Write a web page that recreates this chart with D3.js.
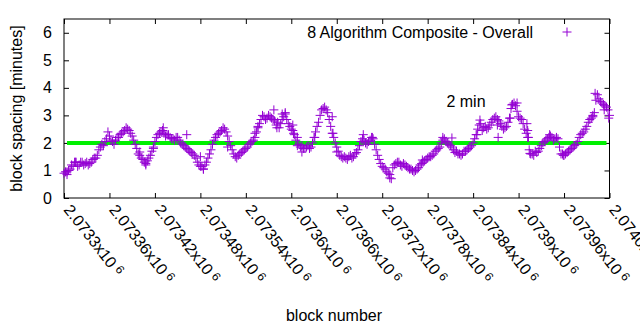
<!DOCTYPE html>
<html><head><meta charset="utf-8">
<script src="https://cdn.jsdelivr.net/npm/d3@7"></script>
<style>body{margin:0;background:#fff}svg{display:block}text{font-family:"Liberation Sans",Arial,sans-serif}</style>
</head><body><svg id="c" width="640" height="330"></svg>
<script>
// ---- data ----
const seriesName = "8 Algorithm Composite - Overall";
const firstBlock = 2073300;
const blockStep = 4;
// values at blocks firstBlock + 4*i
const spacingA = [
0.9,0.85,1.05,1.15,1.3,1.2,1.3,1.25,1.2,1.3,
1.45,1.55,1.85,1.9,2.15,2.25,2.05,2.1,2.2,2.35,
2.45,2.5,2.35,2.1,1.8,1.55,1.4,1.25,1.45,1.7,
2.05,2.3,2.4,2.35,2.3,2.2,2.15,2.2,2.1,1.95,
1.85,1.75,1.65,1.55,1.3,1.15,1.05,1.3,1.6,1.95,
2.2,2.35,2.45,2.5,2.25,1.9,1.6,1.45,1.6,1.7,
1.8,1.95,2.05,2.2,2.55,2.85,2.95,2.9,2.95,2.85,
2.65,2.55,2.85,3.05,2.7,2.5,2.3,1.9,1.85,1.8,
1.85,1.8,2.0,2.4,2.75,3.2,3.3,3.1,2.6,2.2,
1.85,1.55,1.45,1.45,1.5,1.45,1.6,1.75,2.05,2.1,
1.95,2.1,2.15,1.75,1.4,1.15,1.05,0.9,0.7,1.2,
1.3,1.2,1.25,1.15,1.05,1.0,1.0,1.1,1.25,1.35,
1.45,1.5,1.6,1.75,1.85,2.1,2.05,1.95,1.85,1.65,
1.6,1.55,1.7,1.75,1.85,2.0,2.3,2.65,2.45,2.6,
2.55,2.75,2.9,2.85,2.7,2.5,2.6,2.9,3.4,3.35,
2.95,2.85,2.5,2.2,1.6,1.55,1.65,1.8,2.0,2.1,
2.2,2.2,2.15,2.15,1.6,1.55,1.65,1.75,1.85,1.95,
2.2,2.35,2.5,2.75,2.9,3.1,3.75,3.5,3.4,3.3,
3.0
];
// values at blocks firstBlock + 2 + 4*i
const spacingB = [
0.95,1.0,1.2,1.3,1.15,1.3,1.2,1.3,1.25,1.4,
1.45,1.75,1.95,2.05,2.4,2.1,1.95,2.2,2.3,2.4,
2.55,2.45,2.25,1.95,1.6,1.45,1.3,1.35,1.55,1.85,
2.2,2.35,2.45,2.25,2.3,2.15,2.1,2.2,2.0,1.9,
1.8,1.7,1.6,1.45,1.2,1.15,1.2,1.45,1.75,2.1,
2.3,2.4,2.55,2.4,2.05,1.75,1.5,1.55,1.65,1.75,
1.85,2.0,2.1,2.4,2.7,3.0,2.85,3.0,2.9,2.8,
2.75,2.7,2.95,2.85,2.6,2.45,2.1,1.95,1.9,1.8,
1.9,1.85,2.2,2.6,3.0,3.25,3.2,2.85,2.35,2.0,
1.7,1.5,1.5,1.4,1.55,1.5,1.65,1.9,2.15,2.0,
2.05,2.2,1.95,1.55,1.25,1.1,0.95,0.85,1.1,1.25,
1.3,1.15,1.2,1.1,1.05,0.95,1.05,1.2,1.3,1.4,
1.5,1.55,1.7,1.8,2.0,2.15,2.0,1.9,1.75,1.7,
1.6,1.6,1.7,1.8,1.9,2.15,2.5,2.7,2.55,2.5,
2.65,2.85,2.95,2.8,2.6,2.55,2.75,3.25,3.45,3.15,
2.9,2.7,2.35,1.75,1.6,1.7,1.7,1.9,2.05,2.15,
2.25,2.1,2.2,1.85,1.6,1.6,1.7,1.8,1.9,2.05,
2.3,2.4,2.6,2.85,3.0,3.55,3.6,3.45,3.35,3.2
];
// scattered individual readings
const extraBlocks = [2073304,2073315,2073400,2073408,2073418,2073431,2073462,2073480,2073484,2073516,
  2073552,2073556,2073577,2073581,2073588,2073592,2073602,2073603,2073608,2073614,2073631,2073654,2073655,2073660,
  2073695,2073707,2073730,2073773,2073800,2073812,2073845,2073849,2073872,2073873,2073889,2073891,2073898,
  2073911,2073912,2073913,2073915,2073941,2073959,2073998,2074001,2074013,2074019];
const extraValues = [0.95,1.3,1.67,1.2,1.8,2.55,2.3,1.5,1.05,1.85,
  2.35,2.6,3.2,2.55,3.05,3.1,2.65,2.35,2.2,1.67,2.2,2.95,2.35,1.67,
  2.3,2.2,0.73,1.38,2.2,2.18,2.3,2.83,2.65,2.2,2.9,3.38,3.45,
  2.7,2.45,2.2,1.62,2.3,1.55,2.95,3.8,3.2,2.9];
const refLine = [{block: 2073304, v: 2}, {block: 2074016, v: 2}];
const refLabel = "2 min";
const xTickValues = [2073300,2073360,2073420,2073480,2073540,2073600,2073660,2073720,2073780,2073840,2073900,2073960,2074020];
const yTickValues = [0,1,2,3,4,5,6];
const xTitle = "block number";
const yTitle = "block spacing [minutes]";

const points = spacingA.map((v, i) => ({block: firstBlock + i * blockStep, v}))
  .concat(spacingB.map((v, i) => ({block: firstBlock + 2 + i * blockStep, v})))
  .concat(extraBlocks.map((b, i) => ({block: b, v: extraValues[i]})));

// ---- layout ----
const L = 64, R = 609.5, T = 19, B = 198;
const purple = "#9400d3", green = "#00f000";
const svg = d3.select("#c");
const x = d3.scaleLinear().domain([2073300, 2074020]).range([L, R]);
const y = d3.scaleLinear().domain([0, 6.5]).range([B, T]);
const fs = 16, tk = 5;

const yl = svg.append("g").attr("transform", `translate(${L},0)`)
  .call(d3.axisLeft(y).tickValues(yTickValues).tickSize(-tk).tickPadding(12).tickFormat(d3.format("d")));
const yr = svg.append("g").attr("transform", `translate(${R},0)`)
  .call(d3.axisRight(y).tickValues(yTickValues).tickSize(-tk).tickFormat(""));
const xb = svg.append("g").attr("transform", `translate(0,${B})`)
  .call(d3.axisBottom(x).tickValues(xTickValues).tickSize(-tk).tickFormat(""));
const xt = svg.append("g").attr("transform", `translate(0,${T})`)
  .call(d3.axisTop(x).tickValues(xTickValues).tickSize(-tk).tickFormat(""));
[yl, yr, xb, xt].forEach(g => {
  g.select(".domain").remove();
  g.selectAll("line").attr("stroke", "#000");
  g.selectAll("text").attr("font-size", fs).attr("fill", "#000").style("font-family", '"Liberation Sans",Arial,sans-serif');
});
svg.append("rect").attr("x", L).attr("y", T).attr("width", R - L).attr("height", B - T)
  .attr("fill", "none").attr("stroke", "#000").attr("stroke-width", 1);

// x tick labels rotated
const fmt = v => String(+(v / 1e6).toFixed(6));
const xl = svg.append("g");
xTickValues.forEach(v => {
  const t = xl.append("text")
    .attr("transform", `translate(${x(v) - 1},${B + 12}) rotate(52)`)
    .attr("font-size", fs).attr("fill", "#000");
  t.append("tspan").text(fmt(v) + "x10");
  t.append("tspan").attr("dx", 4).attr("dy", -4).attr("font-size", 12).text("6");
});

// reference line
svg.append("path").datum(refLine)
  .attr("d", d3.line().x(d => x(d.block)).y(d => y(d.v)))
  .attr("stroke", green).attr("stroke-width", 4).attr("fill", "none");

// points
const hs = 4.5;
const plusPath = `M${-hs},0H${hs}M0,${-hs}V${hs}`;
svg.append("g").selectAll("path").data(points).join("path")
  .attr("transform", d => `translate(${x(d.block)},${y(d.v)})`)
  .attr("d", plusPath).attr("stroke", purple).attr("stroke-width", 1).attr("fill", "none");

// legend
svg.append("text").attr("x", 533).attr("y", 38).attr("text-anchor", "end")
  .attr("font-size", fs).text(seriesName);
svg.append("path").attr("transform", "translate(567,32)").attr("d", plusPath)
  .attr("stroke", purple).attr("fill", "none");

// reference label
svg.append("text").attr("x", 466).attr("y", 107).attr("text-anchor", "middle")
  .attr("font-size", fs).text(refLabel);

// axis titles
svg.append("text").attr("x", 334).attr("y", 321).attr("text-anchor", "middle")
  .attr("font-size", fs).text(xTitle);
svg.append("text").attr("transform", `translate(22,${(T + B) / 2}) rotate(-90)`)
  .attr("text-anchor", "middle").attr("font-size", fs).text(yTitle);
</script></body></html>
